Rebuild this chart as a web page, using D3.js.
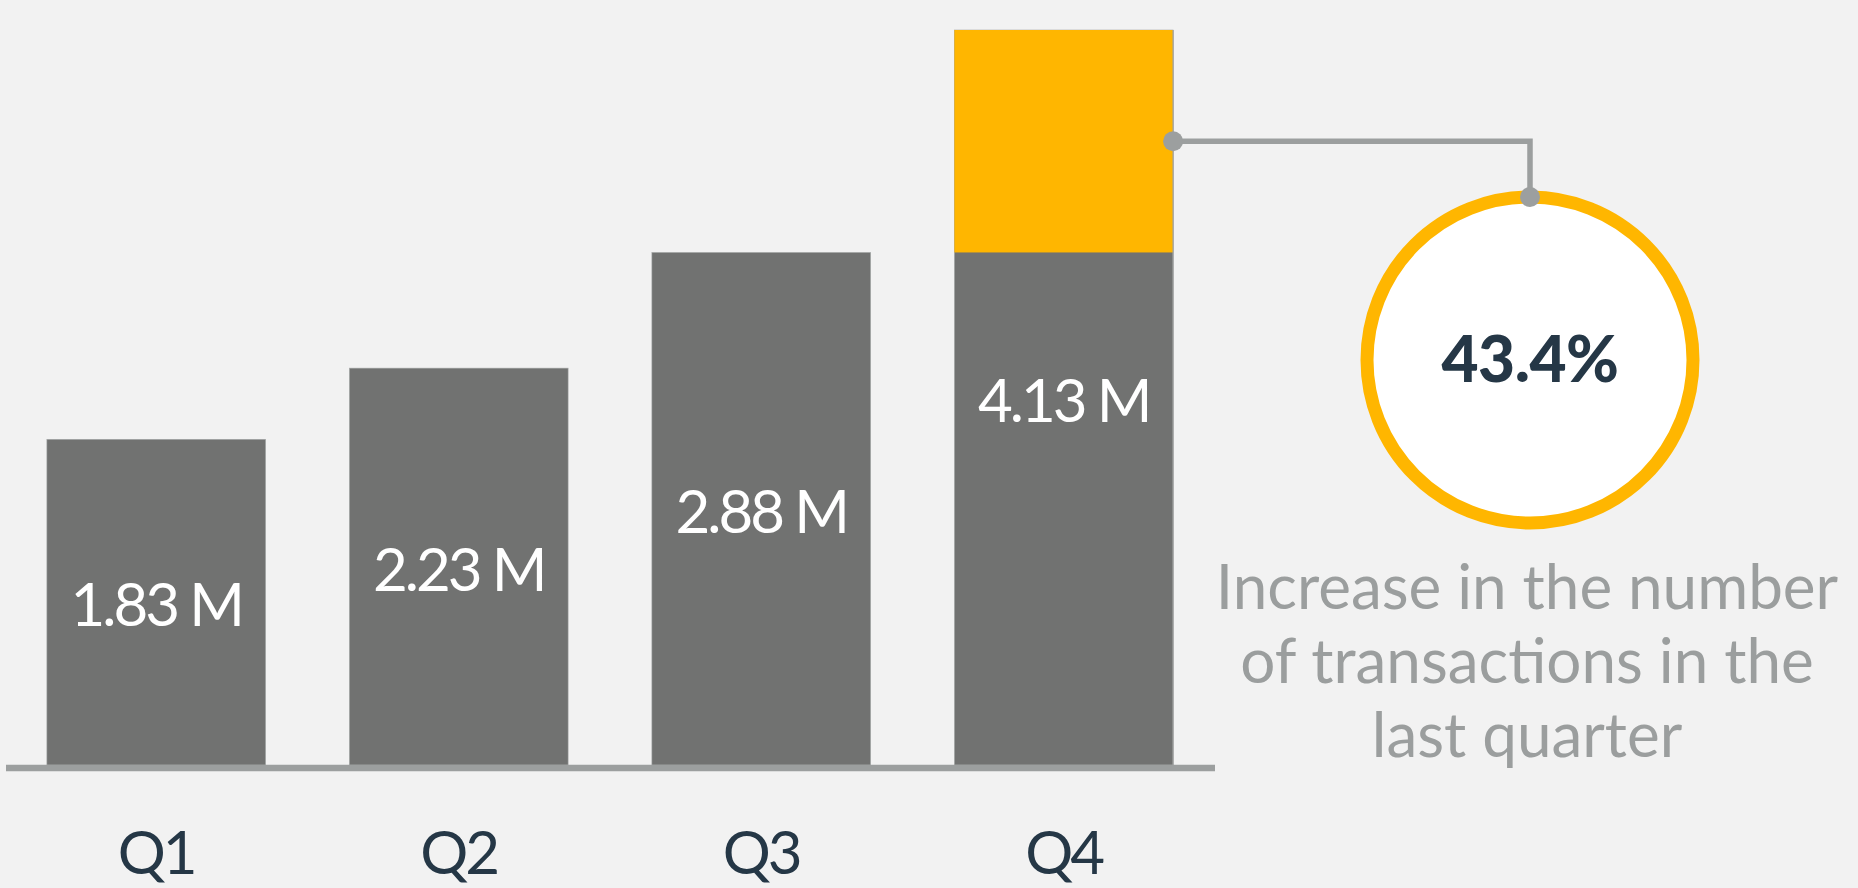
<!DOCTYPE html>
<html>
<head>
<meta charset="utf-8">
<script src="https://cdn.jsdelivr.net/npm/d3@7"></script>
<style>
  html, body { margin: 0; padding: 0; background: #f2f2f2; }
  svg { display: block; }
</style>
</head>
<body>
<svg id="chart" width="1858" height="888"></svg>
<script>
// ---- data ----
const categories = ["Q1", "Q2", "Q3", "Q4"];
const values = [1.83, 2.23, 2.88, 4.13];          // transactions, millions
const valueLabels = ["1.83 M", "2.23 M", "2.88 M", "4.13 M"];
const increaseLabel = "43.4%";
const captionLines = ["Increase in the number", "of transactions in the", "last quarter"];

// ---- styles ----
const BG = "#f2f2f2", BAR = "#717271", ORANGE = "#ffb600", AXIS = "#9c9f9f",
      NAVY = "#253746", CAPTION = "#9b9e9e";
const FONT = "Lato, 'Open Sans', sans-serif";

const svg = d3.select("#chart");
svg.append("rect").attr("width", 1858).attr("height", 888).attr("fill", BG);

const x = d3.scaleBand().domain(categories).range([5, 1215])
  .paddingInner(0.277).paddingOuter(0.1385);
const y = d3.scaleLinear().domain([0, d3.max(values)]).range([765, 30]);

const data = categories.map((c, i) => ({ c, v: values[i], label: valueLabels[i] }));

// bars
svg.append("g").selectAll("rect").data(data).join("rect")
  .attr("x", d => x(d.c))
  .attr("y", d => y(d.v))
  .attr("width", x.bandwidth())
  .attr("height", d => y(0) - y(d.v))
  .attr("fill", BAR)
  .attr("stroke", "#a5a7a7").attr("stroke-width", 0.6);

// increase segment on last bar
const last = data[data.length - 1], prev = data[data.length - 2];
svg.append("rect")
  .attr("x", x(last.c))
  .attr("y", y(last.v))
  .attr("width", x.bandwidth())
  .attr("height", y(prev.v) - y(last.v))
  .attr("fill", ORANGE);
svg.append("line")
  .attr("x1", x(last.c) + x.bandwidth()).attr("x2", x(last.c) + x.bandwidth())
  .attr("y1", y(last.v)).attr("y2", y(0))
  .attr("stroke", "#a0a2a2").attr("stroke-width", 1.2);

// baseline axis
const axisG = svg.append("g").attr("transform", `translate(0,${y(0) + 3})`)
  .call(d3.axisBottom(x).tickSize(0).tickPadding(0));
axisG.select(".domain").attr("stroke", AXIS).attr("stroke-width", 6.5)
  .attr("d", `M6,0H1215`);
axisG.selectAll(".tick text").remove();

// category labels
svg.append("g").selectAll("text").data(data).join("text")
  .attr("x", d => x(d.c) + x.bandwidth() / 2)
  .attr("y", 874)
  .attr("text-anchor", "middle")
  .attr("font-family", FONT).attr("font-weight", 400)
  .attr("font-size", 60).attr("letter-spacing", -3).attr("fill", NAVY)
  .text(d => d.c);

// value labels (centered in bar)
svg.append("g").selectAll("text").data(data).join("text")
  .attr("x", d => x(d.c) + x.bandwidth() / 2)
  .attr("y", d => (y(d.v) + y(0)) / 2 + 24)
  .attr("text-anchor", "middle")
  .attr("font-family", FONT).attr("font-weight", 400)
  .attr("font-size", 60).attr("letter-spacing", -3).attr("fill", "#ffffff")
  .text(d => d.label);

// connector
const cx = 1530, cy = 360, rOuter = 169.5, sw = 13;
const r = rOuter - sw / 2;
const px = x(last.c) + x.bandwidth();
const py = (y(last.v) + y(prev.v)) / 2;
svg.append("path")
  .attr("d", `M${px},${py}H${cx}V${cy - r}`)
  .attr("fill", "none").attr("stroke", AXIS).attr("stroke-width", 5.5);

// circle
svg.append("circle").attr("cx", cx).attr("cy", cy).attr("r", r)
  .attr("fill", "#ffffff").attr("stroke", ORANGE).attr("stroke-width", sw);
svg.append("circle").attr("cx", px).attr("cy", py).attr("r", 10).attr("fill", AXIS);
svg.append("circle").attr("cx", cx).attr("cy", cy - r).attr("r", 10).attr("fill", AXIS);

svg.append("text")
  .attr("x", cx).attr("y", cy + 22)
  .attr("text-anchor", "middle")
  .attr("font-family", FONT).attr("font-weight", 900)
  .attr("font-size", 64).attr("fill", NAVY)
  .attr("letter-spacing", -0.5)
  .text(increaseLabel);

// caption
svg.append("g").selectAll("text").data(captionLines).join("text")
  .attr("x", 1527)
  .attr("y", (d, i) => 609 + i * 74)
  .attr("text-anchor", "middle")
  .attr("font-family", FONT).attr("font-weight", 400)
  .attr("font-size", 62).attr("letter-spacing", 0).attr("fill", CAPTION)
  .text(d => d);
</script>
</body>
</html>
